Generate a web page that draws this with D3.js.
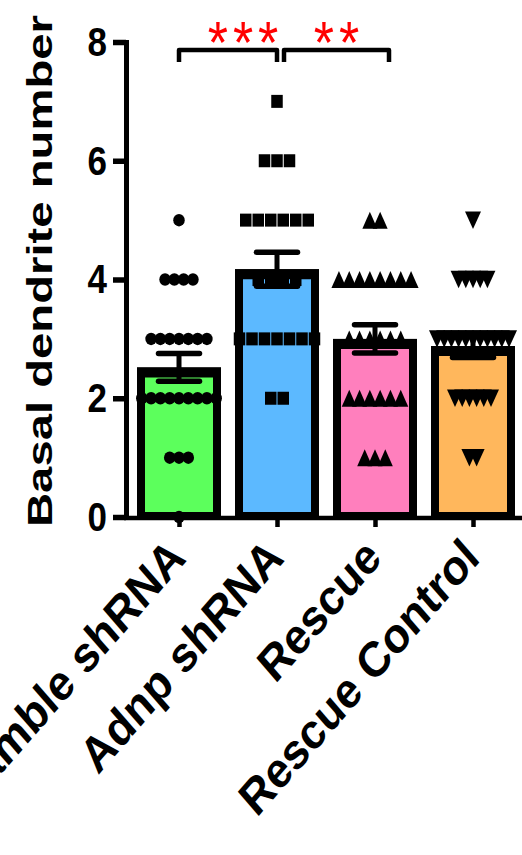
<!DOCTYPE html>
<html>
<head>
<meta charset="utf-8">
<script src="https://cdn.jsdelivr.net/npm/d3@7"></script>
<style>
  html, body { margin: 0; padding: 0; background: #fff; }
  svg { display: block; }
</style>
</head>
<body>
<svg id="chart" width="522" height="855"></svg>
<script>
// ---- data ----
const categories = ["Scramble shRNA", "Adnp shRNA", "Rescue", "Rescue Control"];
const scrambleValues = [5, 4, 4, 4, 4, 3, 3, 3, 3, 3, 3, 3, 2, 2, 2, 2, 2, 2, 2, 2, 2, 1, 1, 1, 0];
const adnpValues = [7, 6, 6, 6, 5, 5, 5, 5, 5, 5, 4, 4, 4, 4, 3, 3, 3, 3, 3, 3, 3, 2, 2];
const rescueValues = [5, 5, 4, 4, 4, 4, 4, 4, 4, 4, 3, 3, 3, 3, 3, 3, 2, 2, 2, 2, 2, 2, 1, 1, 1];
const rescueControlValues = [5, 4, 4, 4, 4, 4, 3, 3, 3, 3, 3, 3, 3, 3, 3, 3, 3, 2, 2, 2, 2, 2, 2, 1, 1];
const yTicks = [0, 2, 4, 6, 8];
const yTitle = "Basal dendrite number";
const comparisonPairs = [[0, 1], [1, 2]];
const comparisonLabels = ["***", "**"];

// ---- styling / layout ----
const W = 522, H = 855;
const SY = 1.15;                       // vertical stretch applied to glyphs
const FONT = "'Liberation Sans', Arial, Helvetica, sans-serif";
const barColors = ["#5cff5c", "#5cb9ff", "#ff7fbd", "#ffb75c"];
const markerStyles = [
  { shape: "circle",  w: 11.5, h: 12.5, gap: 9.3 },
  { shape: "square",  w: 11.5, h: 13,   gap: 12.5 },
  { shape: "triUp",   w: 15,   h: 17,   gap: 10.3 },
  { shape: "triDown", w: 16,   h: 17.5, gap: 7.2 }
];
const barW = 84, barStroke = 8, barTopStroke = 10;
const axisX = 126;
const bracketTop = 50, bracketDrop = 12;
const bracketInsets = [[0, 0], [7, 14]];
const starShift = [15, 0];

const groups = [scrambleValues, adnpValues, rescueValues, rescueControlValues];
const stats = groups.map(v => ({
  mean: d3.mean(v),
  sem: d3.deviation(v) / Math.sqrt(v.length)
}));

const svg = d3.select("#chart");
svg.append("rect").attr("width", W).attr("height", H).attr("fill", "#fff");

const y = d3.scaleLinear().domain([0, 8]).range([517, 42]);
const x = d3.scalePoint().domain(categories).range([130, 522]).padding(0.5);

function markerPath(s) {
  const w = s.w / 2, h = s.h / 2;
  switch (s.shape) {
    case "circle":
      return `M${-w},0A${w},${h} 0 1,0 ${w},0A${w},${h} 0 1,0 ${-w},0Z`;
    case "square":
      return `M${-w},${-h}H${w}V${h}H${-w}Z`;
    case "triUp":
      return `M0,${-h}L${w},${h}L${-w},${h}Z`;
    default:
      return `M0,${h}L${w},${-h}L${-w},${-h}Z`;
  }
}

// ---- bars ----
const barG = svg.append("g");
barG.selectAll("rect.bar")
  .data(categories)
  .join("rect")
  .attr("class", "bar")
  .attr("x", (c) => x(c) - barW / 2 + barStroke / 2)
  .attr("y", (c, i) => y(stats[i].mean) + barStroke / 2)
  .attr("width", barW - barStroke)
  .attr("height", (c, i) => y(0) - y(stats[i].mean) - barStroke / 2 - 1)
  .attr("fill", (c, i) => barColors[i])
  .attr("stroke", "#000")
  .attr("stroke-width", barStroke);
// slightly heavier top edge
barG.selectAll("line.top")
  .data(categories)
  .join("line")
  .attr("class", "top")
  .attr("x1", (c) => x(c) - barW / 2).attr("x2", (c) => x(c) + barW / 2)
  .attr("y1", (c, i) => y(stats[i].mean) + barTopStroke / 2)
  .attr("y2", (c, i) => y(stats[i].mean) + barTopStroke / 2)
  .attr("stroke", "#000").attr("stroke-width", barTopStroke);

// ---- y axis ----
const yAxisG = svg.append("g")
  .attr("transform", `translate(${axisX},0)`)
  .call(d3.axisLeft(y).tickValues(yTicks).tickSize(13).tickSizeOuter(0));
yAxisG.select(".domain").attr("stroke-width", 5).attr("stroke-linecap", "square");
yAxisG.selectAll(".tick line").attr("stroke-width", 5.5);
yAxisG.selectAll(".tick text")
  .attr("x", -19)
  .attr("dy", "0.33em")
  .attr("transform", `scale(1,${SY})`)
  .attr("fill", "#000")
  .style("font-family", FONT)
  .style("font-weight", "bold")
  .style("font-size", "35px");

// ---- x axis ----
const xAxisG = svg.append("g")
  .attr("transform", `translate(0,${y(0) + 1})`)
  .call(d3.axisBottom(x).tickSize(9).tickSizeOuter(0));
xAxisG.select(".domain").remove();
xAxisG.append("line")
  .attr("x1", axisX - 2).attr("x2", W)
  .attr("stroke", "#000").attr("stroke-width", 4.5);
xAxisG.selectAll(".tick line").attr("stroke-width", 4.5);
xAxisG.selectAll(".tick text")
  .attr("x", 0).attr("y", 0).attr("dy", 0)
  .attr("text-anchor", "end")
  .attr("transform", `translate(8,42) scale(1,${SY}) rotate(-45)`)
  .attr("fill", "#000")
  .style("font-family", FONT)
  .style("font-weight", "bold")
  .style("font-size", "43px");

// ---- individual points ----
groups.forEach((vals, gi) => {
  const style = markerStyles[gi];
  const rows = d3.groups(vals, v => v);
  const pts = [];
  rows.forEach(([v, items]) => {
    const n = items.length;
    items.forEach((_, k) => {
      pts.push({ v, dx: (k - (n - 1) / 2) * style.gap });
    });
  });
  svg.append("g").selectAll("path")
    .data(pts)
    .join("path")
    .attr("transform", d => `translate(${x(categories[gi]) + d.dx},${y(d.v)})`)
    .attr("d", markerPath(style))
    .attr("fill", "#000");
});

// ---- mean ± SEM ----
const err = svg.append("g").attr("stroke", "#000");
stats.forEach((s, i) => {
  const cx = x(categories[i]);
  const hi = y(s.mean + s.sem), lo = y(s.mean - s.sem);
  err.append("line").attr("x1", cx).attr("x2", cx).attr("y1", hi).attr("y2", lo)
    .attr("stroke-width", 5);
  [hi, lo].forEach(yy => {
    err.append("line").attr("x1", cx - 20.5).attr("x2", cx + 20.5)
      .attr("y1", yy).attr("y2", yy)
      .attr("stroke-width", 5.5).attr("stroke-linecap", "round");
  });
});

// ---- significance brackets ----
comparisonPairs.forEach(([a, b], i) => {
  const x1 = x(categories[a]) + bracketInsets[i][0];
  const x2 = x(categories[b]) + bracketInsets[i][1];
  svg.append("path")
    .attr("d", `M${x1},${bracketTop + bracketDrop}V${bracketTop}H${x2}V${bracketTop + bracketDrop}`)
    .attr("fill", "none").attr("stroke", "#000")
    .attr("stroke-width", 4.5).attr("stroke-linejoin", "round");
  svg.append("text")
    .attr("transform", `translate(${(x1 + x2) / 2 + starShift[i] + 2.5},63) scale(1,${SY})`)
    .attr("text-anchor", "middle")
    .attr("fill", "#ff0000")
    .style("font-family", FONT)
    .style("font-size", "52px")
    .style("letter-spacing", "5px")
    .text(comparisonLabels[i]);
});

// ---- y axis title ----
svg.append("text")
  .attr("transform", "translate(52,271) rotate(-90)")
  .attr("text-anchor", "middle")
  .attr("textLength", 512)
  .attr("lengthAdjust", "spacingAndGlyphs")
  .attr("fill", "#000")
  .style("font-family", FONT)
  .style("font-weight", "bold")
  .style("font-size", "35px")
  .text(yTitle);
</script>
</body>
</html>
